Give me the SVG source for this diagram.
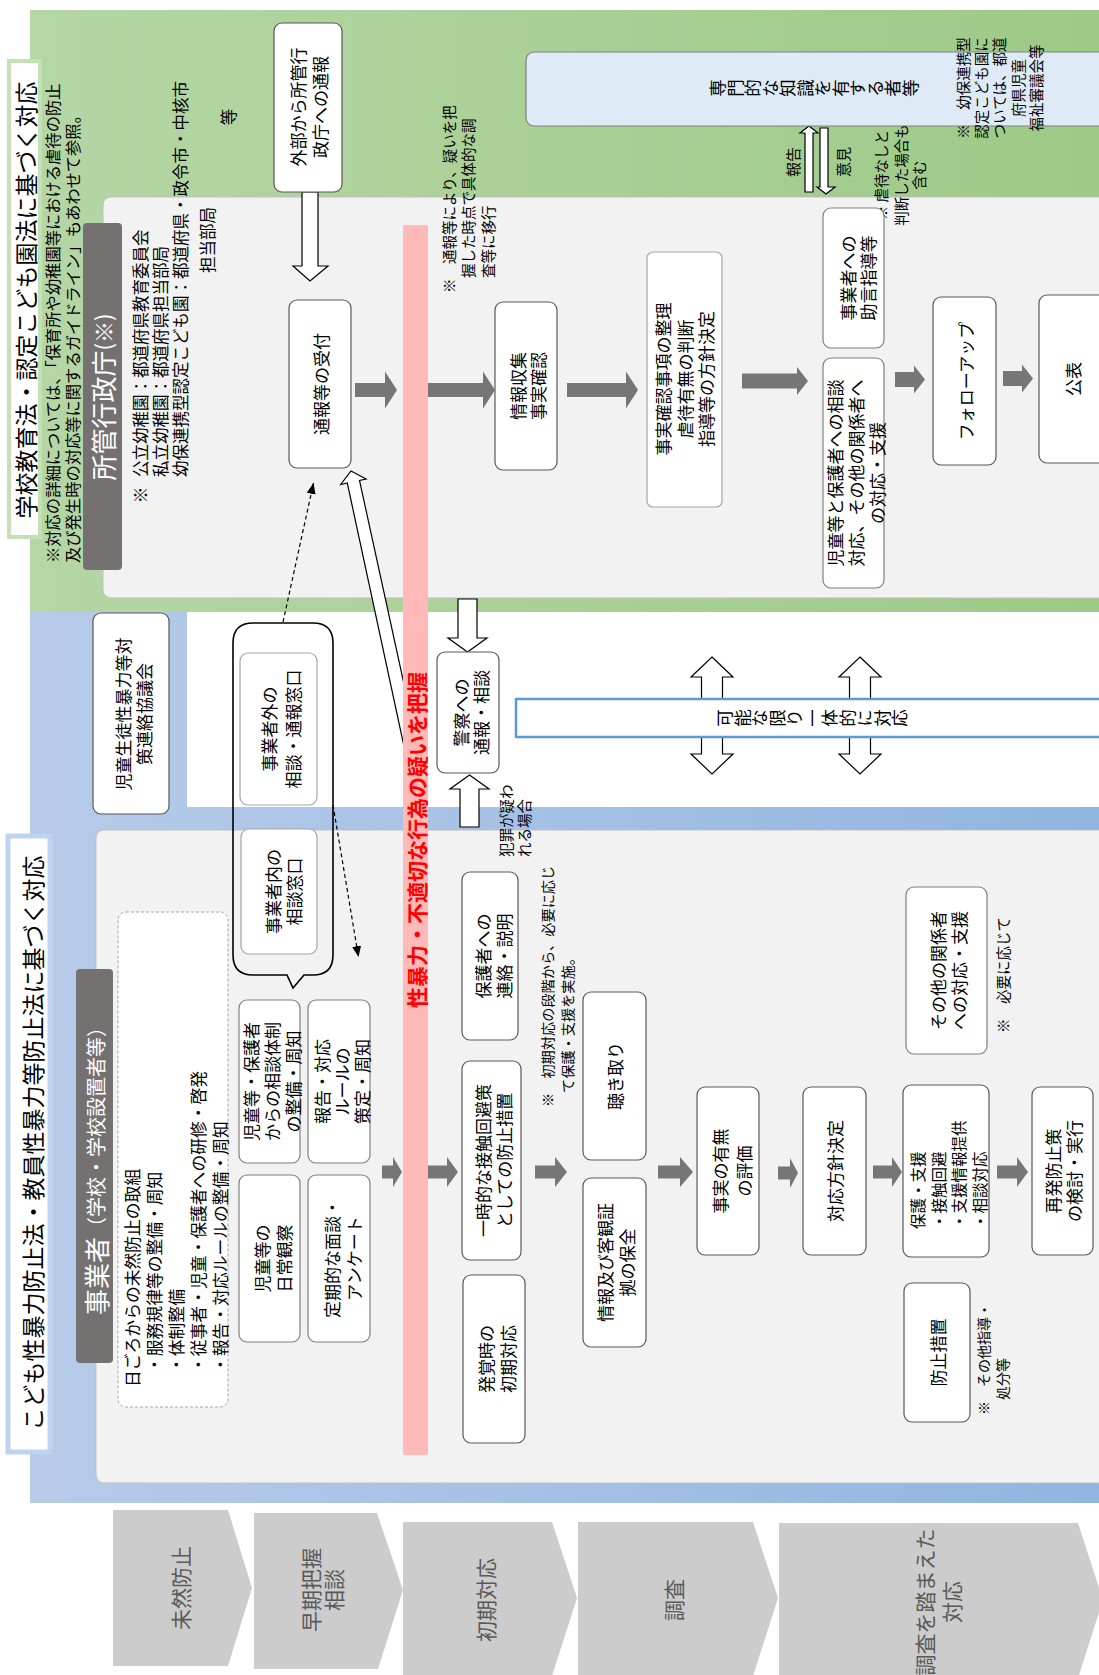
<svg xmlns="http://www.w3.org/2000/svg" width="1099" height="1675" viewBox="0 0 1099 1675">
<defs>
<linearGradient id="gG" x1="0" y1="0" x2="1" y2="0"><stop offset="0" stop-color="#b5d6a5"/><stop offset="1" stop-color="#9dca86"/></linearGradient>
<linearGradient id="gB" x1="0" y1="0" x2="1" y2="0"><stop offset="0" stop-color="#b7cbe9"/><stop offset="1" stop-color="#90b5df"/></linearGradient>
<marker id="ah" markerWidth="11" markerHeight="9" refX="11" refY="4.5" orient="auto" markerUnits="userSpaceOnUse"><path d="M0,0 L11,4.5 L0,9 z" fill="#000"/></marker>
<style>
.box{fill:#fff;stroke:#595959;stroke-width:1.2}
.boxl{fill:#fff;stroke:#a6a6a6;stroke-width:1.2}
.ga{fill:#767676}
.ha{fill:#fff;stroke:#000;stroke-width:1.2}
.t{font-family:"Noto Sans CJK JP","Noto Sans",sans-serif;font-size:17px;text-anchor:middle;dominant-baseline:central;fill:#000}
.n{font-size:14.5px}
.st{text-anchor:start}
.ttl{font-size:23px}
.hd{fill:#fff}
.ph{font-size:21px;fill:#595959}
.v{writing-mode:vertical-rl}
.red{font-size:21px;font-weight:bold;fill:#ff0000}
</style>
</defs>
<rect width="1099" height="1675" fill="#fff"/>
<g id="regions">
<rect x="30" y="10" width="1080" height="602" fill="url(#gG)"/>
<rect x="30" y="612" width="1080" height="891" fill="url(#gB)"/>
<rect x="187" y="612" width="930" height="195" fill="#fff"/>
<rect x="103" y="197" width="1010" height="401" rx="8" fill="#f2f2f2" stroke="#bfbfbf"/>
<rect x="96" y="830" width="1017" height="653" rx="8" fill="#f2f2f2" stroke="#bfbfbf"/>
</g>

<g id="title-school">
<rect x="9" y="61" width="31" height="476" fill="#fff" stroke="#c5e0b4" stroke-width="4"/>
<text class="t ttl" transform="translate(25,300) rotate(-90)">学校教育法・認定こども園法に基づく対応</text>
</g>
<g id="note-guideline">
<text class="t st" style="font-size:16.3px" transform="translate(52,563) rotate(-90)">※対応の詳細については、「保育所や幼稚園等における虐待の防止</text>
<text class="t st" style="font-size:16.3px" transform="translate(72,563) rotate(-90)">及び発生時の対応等に関するガイドライン」もあわせて参照。</text>
</g>
<g id="header-authority">
<rect x="83" y="223" width="39" height="347" rx="4" fill="#767171"/>
<text class="t hd" transform="translate(102,397) rotate(-90)"><tspan style="font-size:26px">所管行政庁</tspan><tspan style="font-size:22px">(※)</tspan></text>
</g>
<g id="note-authority">
<text class="t" style="font-size:16.5px" transform="translate(140,495) rotate(-90)">※</text>
<text class="t st" style="font-size:16.5px" transform="translate(140,477) rotate(-90)">公立幼稚園：都道府県教育委員会</text>
<text class="t st" style="font-size:16.5px" transform="translate(160,477) rotate(-90)">私立幼稚園：都道府県担当部局</text>
<text class="t st" style="font-size:16.5px" transform="translate(180,477) rotate(-90)">幼保連携型認定こども園：都道府県・政令市・中核市</text>
<text class="t st" style="font-size:16.5px" transform="translate(207,273) rotate(-90)">担当部局</text>
<text class="t" style="font-size:16.5px" transform="translate(228,117) rotate(-90)">等</text>
</g>

<g id="connectors">
<polygon class="ha" points="302,192 318,192 318,266 328,266 310,281 293,266 302,266"/>
<polygon class="ha" points="351,471 366.1,479 359.5,480.4 418,748 405,751 347.3,483 340.7,484.5"/>
<polygon class="ga" points="355,383 385,383 385,371.5 397,390 385,408.5 385,397 355,397"/>
<polygon class="ga" points="428,383 483,383 483,371.5 495,390 483,408.5 483,397 428,397"/>
<polygon class="ga" points="567,383 626,383 626,371.5 638,390 626,408.5 626,397 567,397"/>
<polygon class="ga" points="742,373.5 797,373.5 797,367 808,381 797,395 797,388.5 742,388.5"/>
<polygon class="ga" points="895,372 914,372 914,365.5 925,379.5 914,393.5 914,387 895,387"/>
<polygon class="ga" points="1003,371 1022,371 1022,364.5 1033,378.5 1022,392.5 1022,386 1003,386"/>
<polygon class="ha" points="809,126 818,133 813,133 813,192 805,192 805,133 800,133"/>
<polygon class="ha" points="826,194 835,187 828,187 828,128 820,128 820,187 817,187"/>
<line x1="283" y1="622" x2="313.5" y2="483" stroke="#000" stroke-width="1.2" stroke-dasharray="4,3" marker-end="url(#ah)"/>
<line x1="333" y1="805" x2="358.5" y2="957" stroke="#000" stroke-width="1.2" stroke-dasharray="4,3" marker-end="url(#ah)"/>
<polygon class="ha" points="458,599 477,599 477,638 487,638 467.5,652 448,638 458,638"/>
<polygon class="ha" points="469.5,775 489,789 479,789 479,827 460,827 460,789 450,789"/>
<polygon class="ha" points="712,657 733,677 722.5,677 722.5,754 733,754 712,774 691,754 701.5,754 701.5,677 691,677"/>
<polygon class="ha" points="860,657 881,677 870.5,677 870.5,754 881,754 860,774 839,754 849.5,754 849.5,677 839,677"/>
<polygon class="ga" points="382,1165.5 393,1165.5 393,1157 402,1172 393,1187 393,1178.5 382,1178.5"/>
<polygon class="ga" points="428,1165.5 447,1165.5 447,1157 458,1172 447,1187 447,1178.5 428,1178.5"/>
<polygon class="ga" points="535,1165.5 555,1165.5 555,1157 567,1172 555,1187 555,1178.5 535,1178.5"/>
<polygon class="ga" points="658,1165.5 680,1165.5 680,1157 693,1172 680,1187 680,1178.5 658,1178.5"/>
<polygon class="ga" points="778,1166.5 790,1166.5 790,1158 798,1173 790,1188 790,1179.5 778,1179.5"/>
<polygon class="ga" points="873,1165.5 892,1165.5 892,1157 902,1172 892,1187 892,1178.5 873,1178.5"/>
<polygon class="ga" points="997,1165.5 1017,1165.5 1017,1157 1028,1172 1017,1187 1017,1178.5 997,1178.5"/>
</g>

<g id="n-external-report">
<rect class="box" x="274" y="23" width="68" height="169" rx="8"/>
<text class="t" transform="translate(308,107) rotate(-90)"><tspan x="0" y="-11">外部から所管行</tspan><tspan x="0" y="11">政庁への通報</tspan></text>
</g>
<g id="n-receive">
<rect class="box" x="289" y="300" width="62" height="168" rx="8"/>
<text class="t" transform="translate(320,384) rotate(-90)">通報等の受付</text>
</g>
<g id="n-suspicion-bar">
<rect x="403" y="225" width="25" height="1230" rx="2" fill="#ffb9b9"/>
<text class="t red" transform="translate(415.5,840) rotate(-90)">性暴力・不適切な行為の疑いを把握</text>
</g>
<g id="n-collect">
<rect class="box" x="495" y="302" width="62" height="168" rx="8"/>
<text class="t" transform="translate(527,386) rotate(-90)"><tspan x="0" y="-10">情報収集</tspan><tspan x="0" y="10">事実確認</tspan></text>
</g>
<g id="note-transition">
<text class="t n st" transform="translate(448,293) rotate(-90)">※　通報等により、疑いを把</text>
<text class="t n st" transform="translate(467,278) rotate(-90)">握した時点で具体的な調</text>
<text class="t n st" transform="translate(487,278) rotate(-90)">査等に移行</text>
</g>
<g id="n-judge">
<rect class="boxl" x="647" y="252" width="75" height="255" rx="6"/>
<text class="t" transform="translate(683.5,379) rotate(-90)"><tspan x="0" y="-21.5">事実確認事項の整理</tspan><tspan x="0" y="0">虐待有無の判断</tspan><tspan x="0" y="21.5">指導等の方針決定</tspan></text>
</g>
<g id="n-experts">
<rect x="526" y="52" width="590" height="74" rx="8" fill="#deebf7" stroke="#808080" stroke-width="1.2"/>
<text class="t v" style="font-size:17.5px" transform="translate(814,88) rotate(-90)">専門的な知識を有する者等</text>
</g>
<g id="note-council">
<text class="t n" transform="translate(962,88) rotate(-90)">※　幼保連携型</text>
<text class="t n" transform="translate(980,88) rotate(-90)">認定こども園に</text>
<text class="t n" transform="translate(998,88) rotate(-90)">ついては、都道</text>
<text class="t n" transform="translate(1017,88) rotate(-90)">府県児童</text>
<text class="t n" transform="translate(1035,88) rotate(-90)">福祉審議会等</text>
</g>
<g id="labels-report">
<text class="t" style="font-size:15px" transform="translate(792,162) rotate(-90)">報告</text>
<text class="t" style="font-size:15px" transform="translate(842,162) rotate(-90)">意見</text>
</g>
<g id="note-noabuse">
<text class="t n" transform="translate(880,175) rotate(-90)"><tspan x="0" y="0">※ 虐待なしと</tspan><tspan x="0" y="20">判断した場合も</tspan><tspan x="0" y="38">含む</tspan></text>
</g>
<g id="n-advice">
<rect class="box" x="823" y="208" width="61" height="140" rx="8" style="stroke:#7f7f7f"/>
<text class="t" transform="translate(857,278) rotate(-90)"><tspan x="0" y="-10">事業者への</tspan><tspan x="0" y="10">助言指導等</tspan></text>
</g>
<g id="n-support">
<rect class="box" x="823" y="358" width="61" height="230" rx="8" style="stroke:#7f7f7f"/>
<text class="t" transform="translate(855,473) rotate(-90)"><tspan x="0" y="-21">児童等と保護者への相談</tspan><tspan x="0" y="0">対応、その他の関係者へ</tspan><tspan x="0" y="21">の対応・支援</tspan></text>
</g>
<g id="n-followup">
<rect class="box" x="933" y="297" width="63" height="168" rx="8"/>
<text class="t" transform="translate(965,381) rotate(-90)">フォローアップ</text>
</g>
<g id="n-publish">
<rect class="box" x="1039" y="295" width="76" height="168" rx="8"/>
<text class="t" transform="translate(1072,379) rotate(-90)">公表</text>
</g>

<g id="n-council">
<rect class="box" x="93" y="613" width="76" height="201" rx="8"/>
<text class="t" transform="translate(132,714) rotate(-90)"><tspan x="0" y="-10.5">児童生徒性暴力等対</tspan><tspan x="0" y="10.5">策連絡協議会</tspan></text>
</g>
<g id="n-callout">
<path d="M253,623 H313 Q333,623 333,643 V955 Q333,975 313,975 H304 L293,988 L287,975 H253 Q233,975 233,955 V643 Q233,623 253,623 Z" fill="none" stroke="#000" stroke-width="1.6"/>
</g>
<g id="n-outside-window">
<rect class="boxl" x="240" y="653" width="77" height="152" rx="8"/>
<text class="t" transform="translate(280,729) rotate(-90)"><tspan x="0" y="-12">事業者外の</tspan><tspan x="0" y="12">相談・通報窓口</tspan></text>
</g>
<g id="n-inside-window">
<rect class="boxl" x="241" y="829" width="76" height="125" rx="8"/>
<text class="t" transform="translate(282,891.5) rotate(-90)"><tspan x="0" y="-10.5">事業者内の</tspan><tspan x="0" y="10.5">相談窓口</tspan></text>
</g>
<g id="n-police">
<rect class="box" x="437" y="652" width="62" height="121" rx="8"/>
<text class="t" transform="translate(470,712.5) rotate(-90)"><tspan x="0" y="-10">警察への</tspan><tspan x="0" y="10">通報・相談</tspan></text>
</g>
<g id="note-crime">
<text class="t n st" transform="translate(505,857) rotate(-90)">犯罪が疑わ</text>
<text class="t n st" transform="translate(523,857) rotate(-90)">れる場合</text>
</g>
<g id="n-together">
<rect x="516" y="699" width="600" height="38" fill="#fff" stroke="#5b9bd5" stroke-width="2.5"/>
<text class="t v" style="font-size:17.5px" transform="translate(812,718) rotate(-90)">可能な限り一体的に対応</text>
</g>

<g id="title-law">
<rect x="8" y="836" width="42" height="616" fill="#fff" stroke="#c0d3ee" stroke-width="5"/>
<text class="t ttl" transform="translate(32,1143) rotate(-90)">こども性暴力防止法・教員性暴力等防止法に基づく対応</text>
</g>
<g id="header-operator">
<rect x="76" y="969" width="37" height="394" rx="4" fill="#767171"/>
<text class="t hd" transform="translate(95,1166) rotate(-90)"><tspan style="font-size:26px">事業者</tspan><tspan style="font-size:20px">（学校・学校設置者等）</tspan></text>
</g>
<g id="n-prevention">
<rect x="118" y="912" width="110" height="495" rx="8" fill="#fff" stroke="#a6a6a6" stroke-dasharray="3,2"/>
<text class="t st" style="font-size:16.8px" transform="translate(132,1387) rotate(-90)">日ごろからの未然防止の取組</text>
<text class="t st" style="font-size:16.8px" transform="translate(154,1373) rotate(-90)">・服務規律等の整備・周知</text>
<text class="t st" style="font-size:16.8px" transform="translate(176,1373) rotate(-90)">・体制整備</text>
<text class="t st" style="font-size:16.8px" transform="translate(198,1373) rotate(-90)">・従事者・児童・保護者への研修・啓発</text>
<text class="t st" style="font-size:16.8px" transform="translate(220,1373) rotate(-90)">・報告・対応ルールの整備・周知</text>
</g>
<g id="n-observe">
<rect class="box" x="239" y="1175" width="61" height="167" rx="8" style="stroke:#7f7f7f"/>
<text class="t" transform="translate(271.5,1258.5) rotate(-90)"><tspan x="0" y="-11">児童等の</tspan><tspan x="0" y="11">日常観察</tspan></text>
</g>
<g id="n-interview">
<rect class="box" x="308" y="1175" width="62" height="167" rx="8" style="stroke:#7f7f7f"/>
<text class="t" transform="translate(341.5,1258.5) rotate(-90)"><tspan x="0" y="-11">定期的な面談・</tspan><tspan x="0" y="11">アンケート</tspan></text>
</g>
<g id="n-consult-system">
<rect class="box" x="239" y="1000" width="61" height="163" rx="8" style="stroke:#7f7f7f"/>
<text class="t" transform="translate(271,1081.5) rotate(-90)"><tspan x="0" y="-21">児童等・保護者</tspan><tspan x="0" y="0">からの相談体制</tspan><tspan x="0" y="21">の整備・周知</tspan></text>
</g>
<g id="n-rules">
<rect class="box" x="308" y="1000" width="62" height="163" rx="8" style="stroke:#7f7f7f"/>
<text class="t" transform="translate(341,1081.5) rotate(-90)"><tspan x="0" y="-20">報告・対応</tspan><tspan x="0" y="0">ルールの</tspan><tspan x="0" y="20">策定・周知</tspan></text>
</g>
<g id="n-contact-parents">
<rect class="box" x="462" y="872" width="56" height="168" rx="8"/>
<text class="t" transform="translate(492.5,956) rotate(-90)"><tspan x="0" y="-10.5">保護者への</tspan><tspan x="0" y="10.5">連絡・説明</tspan></text>
</g>
<g id="n-avoid">
<rect class="box" x="462" y="1061" width="59" height="199" rx="8"/>
<text class="t" transform="translate(492.5,1160.5) rotate(-90)"><tspan x="0" y="-10.5">一時的な接触回避策</tspan><tspan x="0" y="10.5">としての防止措置</tspan></text>
</g>
<g id="n-initial">
<rect class="box" x="463" y="1275" width="62" height="168" rx="8"/>
<text class="t" transform="translate(496,1359) rotate(-90)"><tspan x="0" y="-11">発覚時の</tspan><tspan x="0" y="11">初期対応</tspan></text>
</g>
<g id="note-initial">
<text class="t st" style="font-size:14.2px" transform="translate(547,1107) rotate(-90)">※　初期対応の段階から、必要に応じ</text>
<text class="t st" style="font-size:14.2px" transform="translate(567,1093) rotate(-90)">て保護・支援を実施。</text>
</g>
<g id="n-hearing">
<rect class="box" x="583" y="992" width="63" height="168" rx="8"/>
<text class="t" transform="translate(614.5,1076) rotate(-90)">聴き取り</text>
</g>
<g id="n-evidence">
<rect class="box" x="583" y="1178" width="63" height="169" rx="8"/>
<text class="t" transform="translate(615,1262.5) rotate(-90)"><tspan x="0" y="-11">情報及び客観証</tspan><tspan x="0" y="11">拠の保全</tspan></text>
</g>
<g id="n-evaluate">
<rect class="box" x="697" y="1087" width="62" height="168" rx="8"/>
<text class="t" transform="translate(731,1171) rotate(-90)"><tspan x="0" y="-12">事実の有無</tspan><tspan x="0" y="12">の評価</tspan></text>
</g>
<g id="n-policy">
<rect class="box" x="803" y="1087" width="63" height="168" rx="8"/>
<text class="t" transform="translate(834.5,1171) rotate(-90)">対応方針決定</text>
</g>
<g id="n-protect">
<rect class="box" x="903" y="1085" width="86" height="172" rx="8"/>
<text class="t st" style="font-size:15.5px" transform="translate(917,1229) rotate(-90)">保護・支援</text>
<text class="t st" style="font-size:15.5px" transform="translate(937.5,1229) rotate(-90)">・接触回避</text>
<text class="t st" style="font-size:15.5px" transform="translate(958,1229) rotate(-90)">・支援情報提供</text>
<text class="t st" style="font-size:15.5px" transform="translate(978.5,1229) rotate(-90)">・相談対応</text>
</g>
<g id="n-others">
<rect class="box" x="906" y="887" width="81" height="167" rx="8" style="stroke:#7f7f7f"/>
<text class="t" transform="translate(947.5,970.5) rotate(-90)"><tspan x="0" y="-10.5">その他の関係者</tspan><tspan x="0" y="10.5">への対応・支援</tspan></text>
</g>
<g id="note-asneeded">
<text class="t n st" transform="translate(1002,1033) rotate(-90)">※　必要に応じて</text>
</g>
<g id="n-recurrence">
<rect class="box" x="1032" y="1087" width="61" height="168" rx="8"/>
<text class="t" transform="translate(1062.5,1171) rotate(-90)"><tspan x="0" y="-10.5">再発防止策</tspan><tspan x="0" y="10.5">の検討・実行</tspan></text>
</g>
<g id="n-measure">
<rect class="box" x="904" y="1283" width="66" height="139" rx="8"/>
<text class="t" transform="translate(937,1352.5) rotate(-90)">防止措置</text>
</g>
<g id="note-disposition">
<text class="t st" style="font-size:14px" transform="translate(983,1415) rotate(-90)">※　その他指導・</text>
<text class="t st" style="font-size:14px" transform="translate(1002,1400) rotate(-90)">処分等</text>
</g>

<g id="phase-1">
<polygon points="113,1510 228,1510 252,1588 228,1666 113,1666" fill="#cccccc"/>
<text class="t ph" transform="translate(180,1588) rotate(-90)">未然防止</text>
</g>
<g id="phase-2">
<polygon points="254,1513 377,1513 403,1590 378,1669 254,1669" fill="#cccccc"/>
<text class="t ph" transform="translate(321.5,1590) rotate(-90)"><tspan x="0" y="-11.5">早期把握</tspan><tspan x="0" y="11.5">相談</tspan></text>
</g>
<g id="phase-3">
<polygon points="403,1522 552,1522 577,1598 552,1676 403,1676" fill="#cccccc"/>
<text class="t ph" transform="translate(485,1600) rotate(-90)">初期対応</text>
</g>
<g id="phase-4">
<polygon points="578,1522 753,1522 778,1598 753,1676 578,1676" fill="#cccccc"/>
<text class="t ph" transform="translate(673,1600) rotate(-90)">調査</text>
</g>
<g id="phase-5">
<polygon points="779,1523 1078,1523 1103,1600 1078,1678 779,1678" fill="#cccccc"/>
<text class="t ph" transform="translate(937.5,1602) rotate(-90)"><tspan x="0" y="-13.5">調査を踏まえた</tspan><tspan x="0" y="13.5">対応</tspan></text>
</g>
</svg>
